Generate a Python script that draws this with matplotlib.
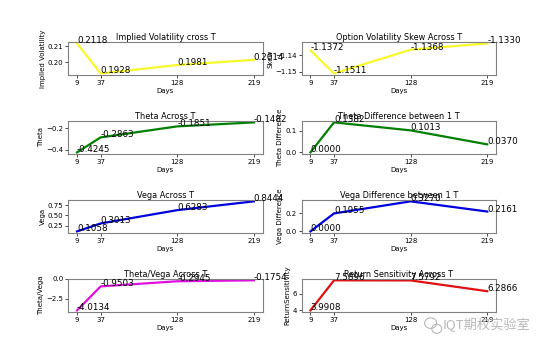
import matplotlib
matplotlib.use("Agg")
import matplotlib.pyplot as plt
from matplotlib.patches import Ellipse

days = [9, 37, 128, 219]

iv = [0.2118, 0.1928, 0.1981, 0.2014]
skew = [-1.1372, -1.1511, -1.1368, -1.1330]
theta = [-0.4245, -0.2863, -0.1851, -0.1482]
theta_diff = [0.0000, 0.1382, 0.1013, 0.0370]
vega = [0.1058, 0.3013, 0.6283, 0.8444]
vega_diff = [0.0000, 0.1955, 0.3270, 0.2161]
theta_vega = [-4.0134, -0.9503, -0.2945, -0.1754]
ret_sens = [3.9908, 7.5896, 7.5792, 6.2866]

titles = ["Implied Volatility cross T", "Option Volatility Skew Across T",
          "Theta Across T", "Theta Difference between 1 T",
          "Vega Across T", "Vega Difference between 1 T",
          "Theta/Vega Across T", "Return Sensitivity Across T"]
ylabels = ["Implied Volatility", "Skew", "Theta", "Theta Difference",
           "Vega", "Vega Difference", "Theta/Vega", "ReturnSensitivity"]
series = [iv, skew, theta, theta_diff, vega, vega_diff, theta_vega, ret_sens]
colors = ["#f8f82a", "#f8f82a", "green", "green", "#0000e0", "#0000e0", "#e010e0", "#e01010"]


def main():
    fig, axes = plt.subplots(4, 2, figsize=(5.5, 3.52), dpi=100)
    fig.subplots_adjust(left=0.124, right=0.902, top=0.881, bottom=0.114,
                        wspace=0.2, hspace=1.39)
    for i, ax in enumerate(axes.flat):
        vals = series[i]
        ax.plot(days, vals, color=colors[i], lw=1.6)
        for x, y in zip(days, vals):
            ax.text(x, y, "%.4f" % y, fontsize=6.3, color="black")
        ax.set_xticks(days)
        ax.set_title(titles[i], fontsize=5.9, pad=1.5)
        ax.set_xlabel("Days", fontsize=5.0, labelpad=1.5)
        ax.set_ylabel(ylabels[i], fontsize=5.0, labelpad=1.5)
        ax.tick_params(labelsize=5.0, length=2, width=0.5, pad=1.5)
        for sp in ax.spines.values():
            sp.set_color("#808080")
            sp.set_linewidth(0.8)

    # watermark
    fig.text(0.805, 0.077, "IQT期权实验室", fontsize=9.5, color="#b8b8b8",
             family=["Noto Sans CJK SC", "DejaVu Sans"], va="center")
    fig.patches.append(Ellipse((0.783, 0.082), 0.022, 0.03, transform=fig.transFigure,
                               fill=False, edgecolor="#b8b8b8", lw=0.8))
    fig.patches.append(Ellipse((0.794, 0.066), 0.018, 0.026, transform=fig.transFigure,
                               fill=False, edgecolor="#b8b8b8", lw=0.8))

    fig.savefig("out.png", dpi=100)


if __name__ == '__main__':
    main()
